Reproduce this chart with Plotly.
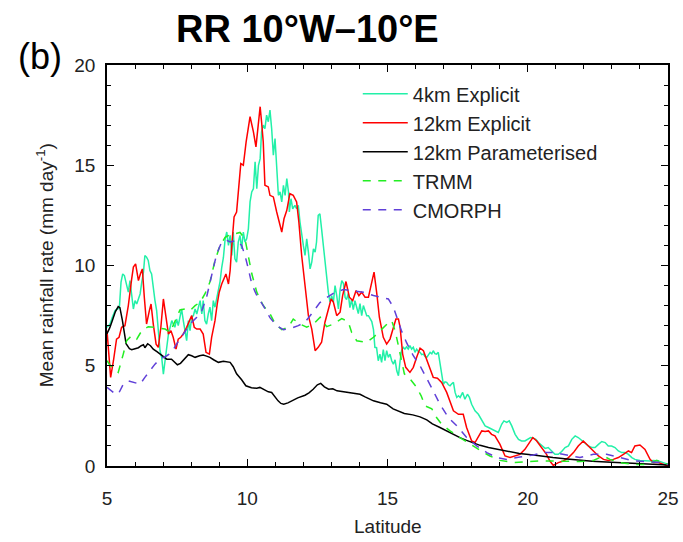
import plotly.graph_objects as go

# ---- 4 km explicit model ----
lat_4km = [5.00, 5.11, 5.19, 5.29, 5.37, 5.44, 5.50, 5.56, 5.62, 5.68, 5.76, 5.82, 5.88, 5.94, 6.00, 6.06, 6.12,
           6.18, 6.24, 6.30, 6.35, 6.41, 6.47, 6.53, 6.59, 6.65, 6.71, 6.77, 6.83, 6.89, 6.95, 7.01, 7.07, 7.13,
           7.19, 7.25, 7.31, 7.36, 7.42, 7.48, 7.54, 7.60, 7.66, 7.72, 7.78, 7.84, 7.90, 7.96, 8.02, 8.08, 8.14,
           8.20, 8.26, 8.32, 8.38, 8.43, 8.49, 8.55, 8.61, 8.67, 8.73, 8.79, 8.85, 8.91, 8.97,
           9.03, 9.09, 9.15, 9.21, 9.27, 9.33, 9.39, 9.45, 9.50, 9.56, 9.62, 9.68, 9.74, 9.80, 9.86, 9.92, 9.98,
           10.04, 10.10, 10.16, 10.22, 10.28, 10.34, 10.40, 10.46, 10.51, 10.57, 10.63, 10.69, 10.75, 10.81,
           10.87, 10.93, 10.99, 11.05, 11.11, 11.17, 11.23, 11.29, 11.35, 11.41, 11.47, 11.50, 11.56, 11.62,
           11.70, 11.76, 11.82, 11.88, 11.94, 12.00, 12.06, 12.12, 12.18, 12.24, 12.30, 12.36, 12.42, 12.47,
           12.53, 12.59, 12.65, 12.71, 12.77, 12.83, 12.89, 12.95, 13.01, 13.07, 13.13, 13.19, 13.25,
           13.31, 13.37, 13.43, 13.49, 13.54, 13.60, 13.66, 13.72, 13.78, 13.84, 13.90, 13.96, 14.02, 14.08,
           14.14, 14.20, 14.26, 14.32, 14.38, 14.44, 14.50, 14.55, 14.61, 14.67, 14.73, 14.79, 14.85, 14.91,
           14.97, 15.03, 15.09, 15.15, 15.21, 15.27, 15.33, 15.39, 15.45, 15.50, 15.56, 15.62, 15.68, 15.74,
           15.80, 15.86, 15.92, 15.98, 16.04, 16.10, 16.16, 16.22, 16.28, 16.34, 16.40, 16.46, 16.52, 16.58,
           16.63, 16.69, 16.75, 16.81, 16.87, 16.93, 16.99, 17.05, 17.11, 17.17, 17.23, 17.29, 17.35, 17.41,
           17.47, 17.53, 17.59, 17.68, 17.76, 17.85, 17.92, 18.00, 18.12, 18.24, 18.36, 18.48, 18.60, 18.71,
           18.83, 18.95, 19.07, 19.15, 19.25, 19.34, 19.43, 19.55, 19.67, 19.78, 19.90, 20.02, 20.10, 20.20,
           20.29, 20.38, 20.50, 20.62, 20.73, 20.85, 20.97, 21.09, 21.21, 21.33, 21.45, 21.57, 21.69, 21.80,
           21.92, 22.04, 22.16, 22.28, 22.40, 22.52, 22.64, 22.76, 22.87, 22.99, 23.11, 23.23, 23.35, 23.47,
           23.59, 23.71, 23.82, 24.00, 24.18, 24.36, 24.48, 24.66, 24.83, 25.00]
rr_4km = [6.92, 7.08, 7.42, 7.75, 7.83, 7.88, 9.17, 9.58, 9.50, 9.08, 8.67, 9.25, 8.42, 7.83, 8.25, 8.08, 8.33,
          8.58, 9.17, 9.67, 10.50, 10.42, 10.25, 9.75, 9.58, 8.75, 8.25, 7.75, 6.92, 5.75, 5.42, 4.58, 5.25, 5.92,
          6.58, 6.92, 7.25, 7.08, 6.92, 7.33, 7.00, 7.42, 7.83, 7.25, 6.75, 6.25, 7.25, 6.75, 7.42, 7.50, 7.83,
          7.58, 7.92, 8.25, 7.58, 8.25, 7.25, 7.08, 7.58, 7.92, 7.25, 8.25, 7.92, 8.33, 8.92,
          9.20, 9.90, 10.40, 11.30, 11.67, 11.00, 11.50, 10.50, 11.67, 10.33, 10.17, 11.17, 11.50, 10.83, 11.67,
          11.17, 11.33, 11.83, 13.17, 13.67, 13.83, 15.17, 13.83, 15.00, 15.33, 16.67, 17.00, 16.83, 17.50,
          17.17, 17.75, 16.83, 15.50, 16.33, 14.83, 13.50, 13.67, 13.17, 14.00, 13.50, 14.33, 13.67, 12.67,
          13.33, 12.83, 13.00, 12.83, 13.00, 12.17, 11.50, 11.00, 10.50, 11.33, 10.67, 9.83, 10.17, 10.83,
          10.67, 11.17, 12.50, 12.58, 11.83, 11.00, 10.33, 9.17, 8.67, 8.17, 8.50, 8.17, 9.00, 8.50, 7.83,
          8.80, 9.25, 9.10, 8.40, 8.30, 8.60, 7.90, 8.30, 7.80, 8.25, 7.92, 7.60, 8.10, 7.50, 8.00, 7.75, 7.50,
          7.50, 7.33, 7.20, 6.80, 5.92, 5.90, 5.25, 5.58, 5.17, 5.80, 5.25, 5.75, 5.42, 5.58, 5.25, 5.08, 5.30,
          4.75, 4.50, 5.25, 5.75, 5.92, 5.83, 5.95, 5.83, 6.00, 5.83, 5.92, 5.67, 5.83, 5.70, 5.67, 5.55, 5.58,
          5.45, 5.42, 5.55, 5.67, 5.60, 5.75, 5.60, 5.58, 5.67, 5.08, 4.42, 4.08, 4.20, 4.17, 4.05, 4.00, 4.10,
          4.17, 3.67, 3.42, 3.50, 3.42, 3.67, 3.33, 3.58, 3.42, 3.08, 2.75, 2.58, 2.25, 2.00, 1.92, 1.83, 1.75,
          1.67, 2.08, 2.25, 2.17, 2.25, 2.00, 1.58, 1.33, 1.25, 1.25, 1.33, 1.42, 1.38, 1.33, 1.17, 1.00, 0.88,
          0.92, 0.75, 0.58, 0.58, 0.72, 0.92, 1.00, 1.33, 1.50, 1.42, 1.28, 1.17, 1.00, 0.92, 0.92, 1.08, 1.22,
          1.17, 1.00, 1.00, 0.92, 0.75, 0.67, 0.67, 0.58, 0.42, 0.33, 0.28, 0.25, 0.25, 0.28, 0.25, 0.17, 0.08]

# ---- 12 km explicit model ----
lat_12km = [5.00, 5.07, 5.13, 5.23, 5.34, 5.43, 5.52, 5.64, 5.76, 5.88, 5.94, 6.02, 6.12, 6.19, 6.26, 6.33,
            6.41, 6.51, 6.57, 6.65, 6.75, 6.83, 6.92, 7.01, 7.09, 7.19, 7.28, 7.36, 7.46, 7.54, 7.63, 7.72,
            7.84, 7.94, 8.02, 8.11, 8.20, 8.32, 8.43, 8.53, 8.65, 8.73, 8.85, 8.93, 9.00, 9.09, 9.17, 9.24,
            9.33, 9.39, 9.44, 9.53, 9.62, 9.68, 9.77, 9.86, 9.96, 10.10, 10.22, 10.31, 10.40, 10.46, 10.51,
            10.57, 10.63, 10.75, 10.81, 10.93, 11.05, 11.17, 11.23, 11.31, 11.41, 11.52, 11.64, 11.76, 11.84,
            11.94, 12.06, 12.18, 12.30, 12.42, 12.53, 12.65, 12.77, 12.89, 12.99, 13.07, 13.19, 13.31, 13.40,
            13.52, 13.64, 13.76, 13.88, 13.98, 14.08, 14.20, 14.32, 14.40, 14.52, 14.62, 14.71, 14.85, 14.97,
            15.09, 15.21, 15.30, 15.39, 15.45, 15.54, 15.65, 15.80, 15.92, 16.04, 16.16, 16.28, 16.37, 16.52,
            16.63, 16.78, 16.93, 17.11, 17.25, 17.35, 17.53, 17.62, 17.70, 17.82, 18.00, 18.12, 18.24, 18.36,
            18.48, 18.60, 18.71, 18.83, 19.01, 19.19, 19.37, 19.55, 19.72, 19.90, 20.08, 20.18, 20.32, 20.50,
            20.67, 20.79, 20.91, 21.09, 21.27, 21.45, 21.63, 21.80, 21.98, 22.16, 22.34, 22.52, 22.70, 22.87,
            23.05, 23.23, 23.41, 23.59, 23.70, 23.82, 24.00, 24.18, 24.36, 24.48, 24.66, 24.83, 25.00]
rr_12km = [6.75, 5.50, 4.42, 5.25, 6.33, 6.42, 6.92, 7.00, 8.00, 9.33, 9.92, 10.08, 9.25, 9.58, 9.83, 8.42,
           7.08, 7.75, 8.08, 7.08, 6.08, 5.92, 6.92, 8.33, 7.42, 6.58, 6.75, 6.42, 5.83, 6.33, 6.42, 6.58,
           6.92, 7.25, 7.50, 6.92, 6.83, 6.83, 6.58, 5.67, 5.58, 6.42, 7.25, 8.08, 8.67, 9.08, 9.33, 9.58,
           9.08, 9.75, 10.83, 12.42, 12.67, 13.50, 15.08, 15.00, 16.17, 17.42, 16.67, 15.92, 17.17, 17.92, 17.17,
           16.17, 14.00, 13.92, 13.50, 13.42, 12.67, 12.08, 11.67, 12.33, 12.75, 13.58, 13.50, 13.17, 12.17,
           10.50, 8.83, 7.50, 6.83, 5.75, 5.92, 6.17, 7.17, 7.83, 8.33, 8.17, 7.50, 7.67, 8.50,
           9.20, 8.42, 8.25, 8.75, 8.50, 8.67, 8.42, 8.42, 8.92, 9.67, 8.58, 7.42, 6.42, 6.08,
           6.33, 6.92, 7.33, 7.33, 6.92, 5.58, 4.92, 4.67, 4.92, 5.42, 5.88, 5.75, 5.42, 4.92,
           4.42, 4.38, 4.17, 3.67, 3.17, 2.75, 2.58, 2.60, 2.58, 1.92, 1.25, 1.17, 1.50, 1.75,
           1.72, 1.75, 1.58, 1.50, 1.08, 0.50, 0.42, 0.50, 0.58, 0.83, 1.25, 1.42, 1.25, 0.92,
           0.58, 0.25, 0.03, 0.17, 0.25, 0.42, 0.67, 1.00, 1.25, 1.00, 0.75, 0.50, 0.33, 0.28,
           0.33, 0.42, 0.58, 0.75, 0.67, 1.00, 1.05, 0.83, 0.33, 0.17, 0.17, 0.08, 0.00]

# ---- 12 km parameterised model ----
lat_param = [5.00, 5.10, 5.20, 5.30, 5.40, 5.46, 5.55, 5.62, 5.68, 5.80, 5.88, 6.00, 6.12, 6.22, 6.30, 6.35,
             6.45, 6.55, 6.65, 6.78, 6.89, 7.00, 7.13, 7.30, 7.42, 7.51, 7.62, 7.75, 7.90, 8.02, 8.14, 8.30,
             8.43, 8.55, 8.67, 8.80, 8.97, 9.15, 9.30, 9.39, 9.50, 9.62, 9.80, 9.95, 10.15, 10.34, 10.45,
             10.60, 10.75, 10.87, 11.00, 11.10, 11.20, 11.30, 11.45, 11.60, 11.80, 12.06, 12.20, 12.35,
             12.50, 12.62, 12.75, 12.90, 13.05, 13.20, 13.40, 13.54, 13.80, 14.02, 14.20, 14.40, 14.50,
             14.75, 14.97, 15.20, 15.37, 15.60, 15.90, 16.16, 16.40, 16.60, 16.87, 17.10, 17.34, 17.60,
             17.82, 18.05, 18.30, 18.60, 19.00, 19.35, 19.70, 20.20, 20.50, 20.90, 21.40, 21.90, 22.30,
             22.80, 23.30, 23.80, 24.30, 24.70, 25.00]
rr_param = [6.60, 6.90, 7.30, 7.70, 7.95, 7.90, 7.25, 6.50, 6.10, 5.85, 5.80, 5.85, 5.90, 6.00, 6.05, 5.90,
            6.10, 6.00, 5.83, 5.70, 5.58, 5.45, 5.33, 5.33, 5.15, 5.05, 5.12, 5.30, 5.55, 5.50, 5.42, 5.50,
            5.53, 5.48, 5.42, 5.30, 5.17, 5.22, 5.20, 5.17, 4.95, 4.60, 4.30, 4.00, 3.90, 3.88, 3.92,
            3.80, 3.70, 3.67, 3.40, 3.25, 3.12, 3.08, 3.15, 3.25, 3.40, 3.53, 3.65, 3.83,
            4.05, 4.12, 3.95, 3.83, 3.85, 3.75, 3.70, 3.67, 3.60, 3.58, 3.45, 3.30, 3.25,
            3.15, 3.08, 2.85, 2.75, 2.62, 2.55, 2.45, 2.30, 2.10, 1.92, 1.75, 1.58, 1.40,
            1.28, 1.15, 1.03, 0.92, 0.80, 0.70, 0.62, 0.55, 0.48, 0.42, 0.35, 0.28, 0.24,
            0.20, 0.16, 0.13, 0.09, 0.06, 0.05]

# ---- TRMM observations ----
lat_trmm = [5.00, 5.12, 5.23, 5.40, 5.58, 5.70, 5.88, 6.06, 6.24, 6.47, 6.71, 6.89, 7.07, 7.25, 7.42, 7.60,
            7.78, 7.96, 8.14, 8.32, 8.49, 8.67, 8.85, 9.03, 9.21, 9.40, 9.60, 9.74, 9.92, 10.04, 10.16, 10.34,
            10.57, 10.81, 10.99, 11.23, 11.47, 11.64, 11.88, 12.12, 12.36, 12.60, 12.83, 13.07, 13.37, 13.60,
            13.72, 13.90, 14.26, 14.50, 14.73, 15.00, 15.15, 15.28, 15.45, 15.60, 15.80, 16.04, 16.20, 16.34,
            16.58, 16.75, 16.93, 17.23, 17.58, 17.94, 18.30, 18.65, 19.01, 19.49, 19.96, 20.44, 20.91, 21.39,
            21.86, 22.34, 22.70, 22.93, 23.29, 23.77, 24.24, 24.60, 24.80, 25.00]
rr_trmm = [5.25, 5.00, 4.90, 4.67, 5.58, 6.25, 6.50, 6.33, 6.75, 6.95, 6.92, 6.88, 6.83, 6.67, 7.25, 7.78,
           7.83, 7.75, 8.00, 8.17, 8.58, 9.17, 10.25, 11.00, 11.40, 11.55, 11.60, 11.65, 11.33, 10.50, 9.60, 8.67,
           8.00, 7.60, 7.10, 6.80, 6.92, 7.33, 7.08, 6.92, 7.08, 7.42, 6.95, 7.08, 7.35, 7.20,
           6.67, 6.25, 6.17, 6.42, 6.75, 7.10, 7.25, 6.70, 5.60, 4.60, 4.35, 3.92, 3.50, 3.00,
           2.85, 2.42, 2.08, 1.75, 1.42, 1.08, 0.78, 0.50, 0.28, 0.17, 0.22, 0.25, 0.25, 0.25,
           0.22, 0.28, 0.50, 0.33, 0.17, 0.08, 0.08, 0.28, 0.17, 0.08]

# ---- CMORPH observations ----
lat_cmorph = [5.00, 5.23, 5.40, 5.58, 5.76, 5.94, 6.18, 6.35, 6.53, 6.71, 6.89, 7.13, 7.31, 7.48, 7.72, 7.96,
              8.20, 8.38, 8.55, 8.73, 8.91, 9.09, 9.27, 9.39, 9.62, 9.80, 9.92, 10.04, 10.16, 10.34, 10.57,
              10.81, 11.05, 11.29, 11.52, 11.82, 12.06, 12.30, 12.59, 12.83, 13.13, 13.43, 13.78, 14.14,
              14.50, 14.79, 15.03, 15.21, 15.35, 15.51, 15.68, 15.92, 16.16, 16.40, 16.63, 16.87, 17.17,
              17.53, 17.82, 18.18, 18.54, 18.89, 19.25, 19.72, 20.20, 20.56, 20.91, 21.39, 21.86, 22.34,
              22.81, 23.29, 23.77, 24.24, 24.72, 25.00]
rr_cmorph = [3.92, 3.67, 3.58, 4.08, 4.25, 4.17, 4.08, 4.42, 4.75, 5.08, 5.33, 5.50, 5.67, 6.08, 6.58, 7.08,
             7.42, 7.75, 8.42, 9.58, 10.58, 11.17, 11.25, 11.17, 11.25, 11.00, 10.50, 9.83, 9.08, 8.50, 8.00,
             7.40, 7.00, 6.80, 6.85, 7.00, 7.17, 7.60, 8.15, 8.40, 8.67, 8.80, 8.72, 8.67,
             8.50, 8.40, 8.33, 7.92, 7.30, 6.70, 6.15, 5.50, 5.00, 4.40, 3.75, 3.08, 2.42,
             1.92, 1.42, 1.00, 0.67, 0.42, 0.33, 0.45, 0.55, 0.67, 0.67, 0.55, 0.42, 0.58,
             0.58, 0.42, 0.25, 0.22, 0.17, 0.08]

FONT = "Liberation Sans, Arial, Helvetica, sans-serif"
TEXT = "#222222"

series = [
    ("4km Explicit", lat_4km, rr_4km, "#22F0A8", "solid"),
    ("12km Explicit", lat_12km, rr_12km, "#FF0000", "solid"),
    ("12km Parameterised", lat_param, rr_param, "#000000", "solid"),
    ("TRMM", lat_trmm, rr_trmm, "#22EE22", "8px,7.5px"),
    ("CMORPH", lat_cmorph, rr_cmorph, "#6040D8", "8px,7.5px"),
]

fig = go.Figure()
for name, x, y, color, dash in series:
    fig.add_trace(go.Scatter(
        x=x, y=y, name=name, mode="lines",
        line=dict(color=color, width=1.5, dash=dash),
    ))

axis_common = dict(
    showline=True, linecolor="black", linewidth=1.5, mirror="ticks",
    ticks="inside", ticklen=7, tickwidth=1.2, tickcolor="black",
    showgrid=False, zeroline=False,
    tickfont=dict(family=FONT, size=19, color=TEXT),
    minor=dict(dtick=1, ticks="inside", ticklen=4, tickwidth=1.2, tickcolor="black", showgrid=False),
)

fig.update_xaxes(range=[5, 25], tick0=5, dtick=5, ticklabelstandoff=14, **axis_common)
fig.update_yaxes(range=[0, 20], tick0=0, dtick=5, ticklabelstandoff=6, **axis_common)

fig.update_layout(
    width=683, height=542,
    margin=dict(l=107, r=15, t=65, b=76, autoexpand=False),
    paper_bgcolor="white", plot_bgcolor="white",
    showlegend=True,
    legend=dict(
        x=0.447, y=0.977, xanchor="left", yanchor="top",
        bgcolor="rgba(0,0,0,0)", borderwidth=0,
        font=dict(family=FONT, size=20, color=TEXT),
        itemwidth=45, tracegroupgap=0,
    ),
    annotations=[
        dict(text="<b>RR 10°W–10°E</b>", x=0.358, y=1.09, xref="paper", yref="paper",
             showarrow=False, font=dict(family=FONT, size=38, color="black"),
             xanchor="center", yanchor="middle"),
        dict(text="(b)", x=-0.119, y=1.02, xref="paper", yref="paper",
             showarrow=False, font=dict(family=FONT, size=36, color="black"),
             xanchor="center", yanchor="middle"),
        dict(text="Latitude", x=0.5, y=-0.152, xref="paper", yref="paper",
             showarrow=False, font=dict(family=FONT, size=19, color=TEXT),
             xanchor="center", yanchor="middle"),
        dict(text="Mean rainfall rate (mm day<sup>-1</sup>)", x=-0.111, y=0.5,
             xref="paper", yref="paper", textangle=-90,
             showarrow=False, font=dict(family=FONT, size=19, color=TEXT),
             xanchor="center", yanchor="middle"),
    ],
)

fig.write_html("out.html")
